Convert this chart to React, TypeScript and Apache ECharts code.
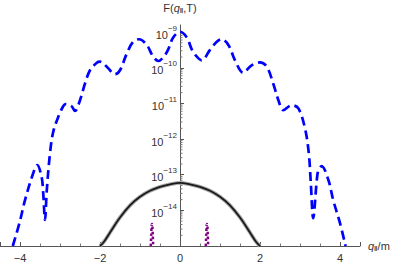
import React, { useEffect, useRef } from 'react';
import * as echarts from 'echarts';

// log10 of F(q, T)
const blueCurve: [number, number][] = [
  [-4.18, -15.0], [-4.0, -14.3], [-3.875, -13.71], [-3.67, -12.96], [-3.57, -12.73],
  [-3.46, -13.06], [-3.42, -13.51], [-3.375, -14.27], [-3.33, -13.43], [-3.25, -12.4],
  [-3.17, -11.8], [-3.04, -11.37], [-2.92, -11.08], [-2.86, -11.02], [-2.71, -11.08],
  [-2.625, -11.21], [-2.5, -10.91], [-2.375, -10.44], [-2.25, -10.07], [-2.08, -9.86],
  [-2.0, -9.83], [-1.83, -9.97], [-1.625, -10.18], [-1.5, -10.07], [-1.33, -9.6],
  [-1.17, -9.27], [-1.02, -9.2], [-0.83, -9.36], [-0.67, -9.69], [-0.54, -9.81],
  [-0.4, -9.68], [-0.3, -9.5], [-0.17, -9.15], [0, -8.99], [0.17, -9.15],
  [0.3, -9.5], [0.4, -9.66], [0.54, -9.79], [0.75, -9.5], [0.92, -9.27],
  [1.04, -9.2], [1.21, -9.36], [1.375, -9.79], [1.58, -10.14], [1.79, -9.93],
  [2.0, -9.85], [2.17, -9.97], [2.33, -10.44], [2.46, -10.91], [2.58, -11.19],
  [2.79, -11.05], [2.96, -11.14], [3.125, -11.7], [3.22, -12.4], [3.27, -13.23],
  [3.33, -14.22], [3.42, -13.15], [3.46, -12.87], [3.54, -12.76], [3.71, -13.15],
  [3.83, -13.71], [4.0, -14.36], [4.14, -15.0],
];

const blackCurve: [number, number][] = [
  [-2.0, -15.0], [-1.9, -14.88], [-1.75, -14.62], [-1.5, -14.2], [-1.25, -13.86],
  [-1.0, -13.62], [-0.75, -13.45], [-0.5, -13.34], [-0.25, -13.27], [0, -13.23],
  [0.25, -13.27], [0.5, -13.34], [0.75, -13.45], [1.0, -13.62], [1.25, -13.86],
  [1.5, -14.2], [1.75, -14.62], [1.9, -14.88], [2.0, -15.0],
];

const purpleLeft: [number, number][] = [
  [-0.73, -15.0], [-0.72, -14.7], [-0.71, -14.45], [-0.7, -14.38],
  [-0.69, -14.45], [-0.68, -14.7], [-0.67, -15.0],
];

const purpleRight: [number, number][] = [
  [0.645, -15.0], [0.655, -14.7], [0.665, -14.45], [0.675, -14.38],
  [0.685, -14.45], [0.695, -14.7], [0.705, -15.0],
];

const yDecades = [-15, -14, -13, -12, -11, -10, -9];
const minorMultipliers = [2, 3, 4, 5, 6, 7, 8, 9];

const FONT = '"Liberation Sans", Arial, sans-serif';
const TXT = '#333';

const nameRich = {
  i: { fontStyle: 'italic', fontSize: 11, fontFamily: FONT, color: TXT, lineHeight: 12, verticalAlign: 'top' },
  s: { fontSize: 7, fontFamily: FONT, color: TXT, fontWeight: 'bold', lineHeight: 7, padding: [7, 0, 0, 0], verticalAlign: 'bottom' },
  n: { fontSize: 11, fontFamily: FONT, color: TXT, lineHeight: 12, verticalAlign: 'top' },
};

export default function App() {
  const ref = useRef<HTMLDivElement>(null);
  useEffect(() => {
    if (!ref.current) return;
    const chart = echarts.init(ref.current, null, { renderer: 'svg' });
    const minorTicks: number[][] = [];
    yDecades.forEach((d) => {
      minorMultipliers.forEach((m) => {
        const v = d + Math.log10(m);
        if (v < -8.8) minorTicks.push([0, v]);
      });
    });
    chart.setOption({
      animation: false,
      grid: { left: 0, right: 35, top: 25, bottom: 18, outerBoundsMode: 'none', containLabel: false },
      xAxis: {
        type: 'value',
        min: -4.5,
        max: 4.5,
        splitLine: { show: false },
        axisLine: { lineStyle: { color: '#555', width: 1 } },
        axisTick: { inside: true, length: 4, lineStyle: { color: '#555' } },
        minorTick: { show: true, splitNumber: 4, length: 2.5, lineStyle: { color: '#777' } },
        axisLabel: {
          showMinLabel: false,
          showMaxLabel: false,
          color: TXT,
          fontFamily: FONT,
          fontSize: 11,
          margin: 6,
          formatter: (v: number) => String(v).replace('-', '\u2212'),
        },
        name: '{i|q}{s|\u2016}{n|/m}',
        nameLocation: 'end',
        nameGap: 8,
        nameTextStyle: { rich: nameRich },
      },
      yAxis: {
        type: 'value',
        position: 'left',
        offset: -180,
        min: -15,
        max: -8.8,
        interval: 1,
        splitLine: { show: false },
        axisLine: { onZero: false, lineStyle: { color: '#555', width: 1 } },
        axisTick: { inside: true, length: 4, lineStyle: { color: '#555' } },
        axisLabel: {
          showMinLabel: false,
          showMaxLabel: false,
          margin: 3,
          formatter: (v: number) => `{b|10}{s|\u2212${-v}}`,
          rich: {
            b: { fontSize: 11, fontFamily: FONT, color: TXT, lineHeight: 16, verticalAlign: 'bottom' },
            s: { fontSize: 8, fontFamily: FONT, color: TXT, lineHeight: 8, verticalAlign: 'top' },
          },
        },
        name: '{n|F(}{i|q}{s|\u2016}{n|,T)}',
        nameLocation: 'end',
        nameGap: 11,
        nameTextStyle: { align: 'center', rich: nameRich },
      },
      series: [
        {
          type: 'custom',
          silent: true,
          z: 1,
          renderItem: (_p: any, api: any) => {
            const pt = api.coord([api.value(0), api.value(1)]);
            return {
              type: 'line',
              shape: { x1: pt[0], y1: pt[1], x2: pt[0] + 2.5, y2: pt[1] },
              style: { stroke: '#777', lineWidth: 1 },
            };
          },
          data: minorTicks,
        },
        {
          type: 'line',
          data: blueCurve,
          smooth: 0.35,
          showSymbol: false,
          z: 5,
          lineStyle: { color: '#0000ff', width: 2.7, type: [9, 5] },
        },
        {
          type: 'line',
          data: blackCurve,
          smooth: 0.4,
          showSymbol: false,
          z: 3,
          lineStyle: { color: '#a8a8a8', width: 3.8 },
        },
        {
          type: 'line',
          data: blackCurve,
          smooth: 0.4,
          showSymbol: false,
          z: 4,
          lineStyle: { color: '#1a1a1a', width: 1.8 },
        },
        {
          type: 'line',
          data: purpleLeft,
          smooth: 0.3,
          showSymbol: false,
          z: 4,
          lineStyle: { color: '#800080', width: 2.5, type: [2.5, 2.5] },
        },
        {
          type: 'line',
          data: purpleRight,
          smooth: 0.3,
          showSymbol: false,
          z: 4,
          lineStyle: { color: '#800080', width: 2.5, type: [2.5, 2.5] },
        },
      ],
    });
    return () => chart.dispose();
  }, []);
  return <div ref={ref} style={{ width: 395, height: 264, position: 'absolute', left: 0, top: 0 }} />;
}
